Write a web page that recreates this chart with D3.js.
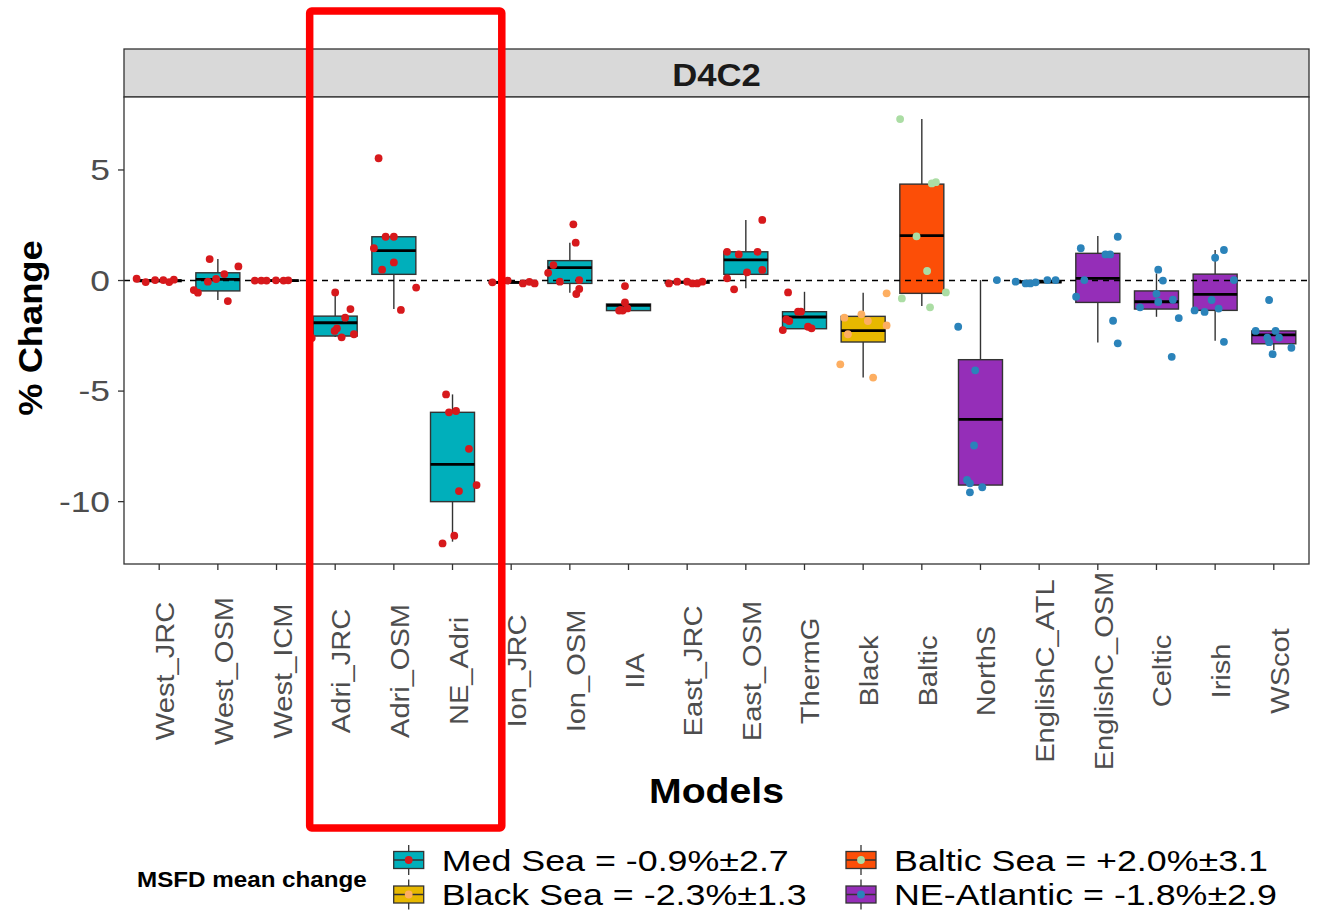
<!DOCTYPE html>
<html><head><meta charset="utf-8">
<script src="https://cdn.jsdelivr.net/npm/d3@7"></script>
<style>body{margin:0;background:#fff}svg{display:block}text{font-family:"Liberation Sans",Arial,sans-serif}</style>
</head><body><svg id="c" width="1319" height="911"></svg>
<script>
const categories = ["West_JRC","West_OSM","West_ICM","Adri_JRC","Adri_OSM","NE_Adri","Ion_JRC","Ion_OSM","IIA","East_JRC","East_OSM","ThermG","Black","Baltic","NorthS","EnglishC_ATL","EnglishC_OSM","Celtic","Irish","WScot"];
const regionOf = ["Med","Med","Med","Med","Med","Med","Med","Med","Med","Med","Med","Med","Black","Baltic","NEA","NEA","NEA","NEA","NEA","NEA"];
// box stats: q1, median, q3, lower whisker, upper whisker
const boxQ1  = [-0.05,-0.47,-0.03,-2.51,0.28,-10.0,-0.12,-0.13,-1.36,-0.12,0.28,-2.18,-2.78,-0.58,-9.25,-0.10,-0.99,-1.29,-1.35,-2.86];
const boxMed = [0.0,0.05,0.0,-1.91,1.35,-8.31,-0.08,0.58,-1.12,-0.07,0.93,-1.65,-2.27,2.03,-6.28,-0.06,0.10,-0.96,-0.63,-2.46];
const boxQ3  = [0.03,0.35,0.02,-1.61,1.98,-5.96,-0.05,0.90,-1.06,-0.04,1.30,-1.41,-1.62,4.36,-3.58,-0.02,1.23,-0.47,0.29,-2.28];
const boxLo  = [-0.08,-0.88,-0.03,-2.55,-1.29,-11.81,-0.13,-0.55,-1.36,-0.13,-0.35,-2.18,-4.38,-1.15,-9.25,-0.13,-2.80,-1.64,-2.72,-3.14];
const boxHi  = [0.06,0.97,0.02,-0.54,1.98,-5.15,0.0,1.71,-1.06,-0.05,2.74,-0.51,-0.55,7.30,0.02,0.02,2.01,0.32,1.38,-2.28];
// jittered points: values and horizontal jitter (in category units)
const pointVals = [
 [0.08,-0.07,0.02,0.02,-0.07,0.04],
 [0.97,-0.43,-0.55,-0.05,0.07,0.29,-0.93,0.64],
 [0,0,0,0.01,0,0.01],
 [-0.54,-1.29,-1.68,-2.16,-2.28,-2.57,-2.43,-2.6],
 [5.53,1.98,1.98,1.46,0.82,0.49,-0.32,-1.33],
 [-5.15,-5.96,-5.90,-7.61,-9.25,-9.52,-11.54,-11.89],
 [0.0,-0.13,-0.06,-0.13,-0.08],
 [2.54,1.71,0.70,0.35,-0.05,0.02,-0.38,-0.61],
 [-0.25,-0.99,-1.33,-1.36,-1.26,-1.36],
 [-0.13,-0.05,-0.05,-0.13,-0.13,-0.05],
 [2.74,1.30,1.18,1.30,0.37,0.48,0.10,-0.40],
 [-0.54,-1.41,-1.41,-1.76,-1.83,-2.24,-2.09,-2.16],
 [-0.58,-1.68,-1.53,-1.83,-2.03,-2.43,-3.79,-4.39],
 [7.30,4.39,4.45,2.0,0.43,-0.54,-0.81,-1.21],
 [-2.09,0.02,-4.06,-7.46,-9.02,-9.17,-9.35,-9.58],
 [-0.05,-0.13,-0.13,-0.08,0.02,0.02],
 [1.98,1.46,1.18,1.18,0.02,-0.73,-1.82,-2.84],
 [0.49,0.0,-0.60,-0.97,-0.87,-1.21,-1.70,-3.45],
 [1.38,1.03,0.02,-0.88,-1.35,-1.42,-1.27,-2.77],
 [-0.88,-2.28,-2.28,-2.58,-2.58,-2.79,-3.04,-3.33]
];
const pointJit = [
 [-0.385,-0.23,-0.07,0.07,0.17,0.25],
 [-0.14,-0.41,-0.34,-0.17,-0.03,0.11,0.17,0.35],
 [-0.37,-0.26,-0.17,-0.01,0.12,0.2],
 [0,0.26,0.17,0.03,-0.01,0.11,0.32,-0.4],
 [-0.26,-0.14,0,-0.34,0,-0.2,0.38,0.12],
 [-0.11,-0.06,0.06,0.28,0.41,0.11,0.03,-0.17],
 [-0.06,0.2,0.31,0.4,-0.32],
 [0.06,0.1,-0.28,-0.37,-0.17,0.16,0.16,0.11],
 [-0.06,-0.06,-0.13,-0.1,-0.02,-0.16],
 [-0.31,-0.17,0,0.09,0.17,0.26],
 [0.28,-0.32,-0.12,0.2,0.02,0.28,-0.32,-0.2],
 [-0.28,-0.11,-0.06,-0.31,-0.26,-0.37,0.06,0.12],
 [0.4,-0.32,-0.03,0.08,0.4,-0.26,-0.39,0.17],
 [-0.37,0.17,0.24,-0.09,0.09,0.41,-0.34,0.14],
 [-0.38,0.28,-0.09,-0.11,-0.23,-0.18,0.03,-0.18],
 [-0.4,-0.23,-0.15,-0.06,0.14,0.28],
 [0.34,-0.29,0.13,0.21,-0.23,-0.37,0.26,0.34],
 [0.03,0.11,0,0.03,0.28,-0.28,0.38,0.26],
 [0.15,0,0.32,-0.06,-0.35,-0.18,0.06,0.15],
 [-0.08,-0.31,0.03,-0.11,0.09,-0.08,0.3,-0.02]
];
const yTicks = [5,0,-5,-10];
const regions = ["Med","Black","Baltic","NEA"];
const legendLabels = ["Med Sea = -0.9%±2.7","Black Sea = -2.3%±1.3","Baltic Sea = +2.0%±3.1","NE-Atlantic = -1.8%±2.9"];
const boxFill = {Med:"#00AFBB", Black:"#E7B800", Baltic:"#FC4E07", NEA:"#952EB8"};
const ptFill = {Med:"#D7191C", Black:"#FDAE61", Baltic:"#ABDDA4", NEA:"#2B83BA"};

const svg = d3.select("#c");
const L=124, R=1309, T=97, B=564;
const x = d3.scalePoint().domain(categories).range([L,R]).padding(0.6);
const step = x.step();
const y = d3.scaleLinear().domain([-12.82,8.30]).range([B,T]);
const bw = step*0.75;

function stext(g, str, px, py, opt){
  const t = g.append("text").text(str)
   .attr("transform", `translate(${px},${py}) rotate(${opt.rot||0}) scale(${opt.sx||1},1)`)
   .attr("font-size", opt.size).attr("fill", opt.fill||"#000")
   .attr("text-anchor", opt.anchor||"start");
  if(opt.bold) t.attr("font-weight","bold");
  return t;
}

// strip
svg.append("rect").attr("x",L).attr("y",49).attr("width",R-L).attr("height",T-49)
  .attr("fill","#D9D9D9").attr("stroke","#333").attr("stroke-width",1.3);
stext(svg,"D4C2",(L+R)/2,86,{size:31,bold:true,anchor:"middle",sx:1.12,fill:"#1a1a1a"});

// panel bg
svg.append("rect").attr("x",L).attr("y",T).attr("width",R-L).attr("height",B-T).attr("fill","#fff");

// boxes
const bx = svg.append("g");
categories.forEach((c,i)=>{
  const cx = x(c), col = boxFill[regionOf[i]];
  bx.append("line").attr("x1",cx).attr("x2",cx).attr("y1",y(boxHi[i])).attr("y2",y(boxQ3[i])).attr("stroke","#333").attr("stroke-width",1.4);
  bx.append("line").attr("x1",cx).attr("x2",cx).attr("y1",y(boxQ1[i])).attr("y2",y(boxLo[i])).attr("stroke","#333").attr("stroke-width",1.4);
  bx.append("rect").attr("x",cx-bw/2).attr("width",bw).attr("y",y(boxQ3[i])).attr("height",Math.max(0.5,y(boxQ1[i])-y(boxQ3[i])))
    .attr("fill",col).attr("stroke","#333").attr("stroke-width",1.4);
  bx.append("line").attr("x1",cx-bw/2).attr("x2",cx+bw/2).attr("y1",y(boxMed[i])).attr("y2",y(boxMed[i])).attr("stroke","#000").attr("stroke-width",2.8);
});

// zero line
svg.append("line").attr("x1",L).attr("x2",R).attr("y1",y(0)).attr("y2",y(0))
  .attr("stroke","#000").attr("stroke-width",1.4).attr("stroke-dasharray","6,5");

// points
const pg = svg.append("g");
categories.forEach((c,i)=>{
  pointVals[i].forEach((v,j)=>{
    pg.append("circle").attr("cx",x(c)+pointJit[i][j]*step).attr("cy",y(v)).attr("r",3.9)
      .attr("fill",ptFill[regionOf[i]]);
  });
});

// panel border
svg.append("rect").attr("x",L).attr("y",T).attr("width",R-L).attr("height",B-T)
  .attr("fill","none").attr("stroke","#333").attr("stroke-width",1.3);

// y axis
yTicks.forEach(t=>{
  svg.append("line").attr("x1",L-6).attr("x2",L).attr("y1",y(t)).attr("y2",y(t)).attr("stroke","#333").attr("stroke-width",1.3);
  stext(svg,String(t),110,y(t)+10.3,{size:29,anchor:"end",sx:1.22,fill:"#4D4D4D"});
});
// x axis
categories.forEach(c=>{
  svg.append("line").attr("x1",x(c)).attr("x2",x(c)).attr("y1",B).attr("y2",B+6).attr("stroke","#333").attr("stroke-width",1.3);
  stext(svg,c,x(c)+15,671,{size:25.5,anchor:"middle",rot:-90,sx:1.14,fill:"#4D4D4D"});
});
// titles
stext(svg,"% Change",42,328,{size:33,bold:true,anchor:"middle",rot:-90,sx:1.1});
stext(svg,"Models",(L+R)/2,803,{size:35,bold:true,anchor:"middle",sx:1.12});

// legend
stext(svg,"MSFD mean change",137,887,{size:22,bold:true,sx:1.1});
const keyX = [408.7,408.7,861,861], keyY=[860,894.5,860,894.5];
regions.forEach((r,k)=>{
  const g = svg.append("g");
  const kx=keyX[k], ky=keyY[k];
  g.append("line").attr("x1",kx).attr("x2",kx).attr("y1",ky-15).attr("y2",ky+15).attr("stroke","#333").attr("stroke-width",1.3);
  g.append("rect").attr("x",kx-15).attr("y",ky-8.5).attr("width",30).attr("height",17).attr("fill",boxFill[r]).attr("stroke","#333").attr("stroke-width",1.3);
  g.append("line").attr("x1",kx-15).attr("x2",kx+15).attr("y1",ky).attr("y2",ky).attr("stroke","#333").attr("stroke-width",1.5);
  g.append("circle").attr("cx",kx).attr("cy",ky).attr("r",3.9).attr("fill",ptFill[r]);
  stext(g,legendLabels[k],kx+33,ky+10.5,{size:29,sx:1.235});
});

// red highlight annotation around the Adriatic models
svg.append("rect")
  .attr("x",x("Adri_JRC")-0.435*step).attr("y",11)
  .attr("width",(x("NE_Adri")+0.84*step)-(x("Adri_JRC")-0.435*step)).attr("height",817)
  .attr("rx",2).attr("fill","none").attr("stroke","#FF0000").attr("stroke-width",7.5);
</script></body></html>
